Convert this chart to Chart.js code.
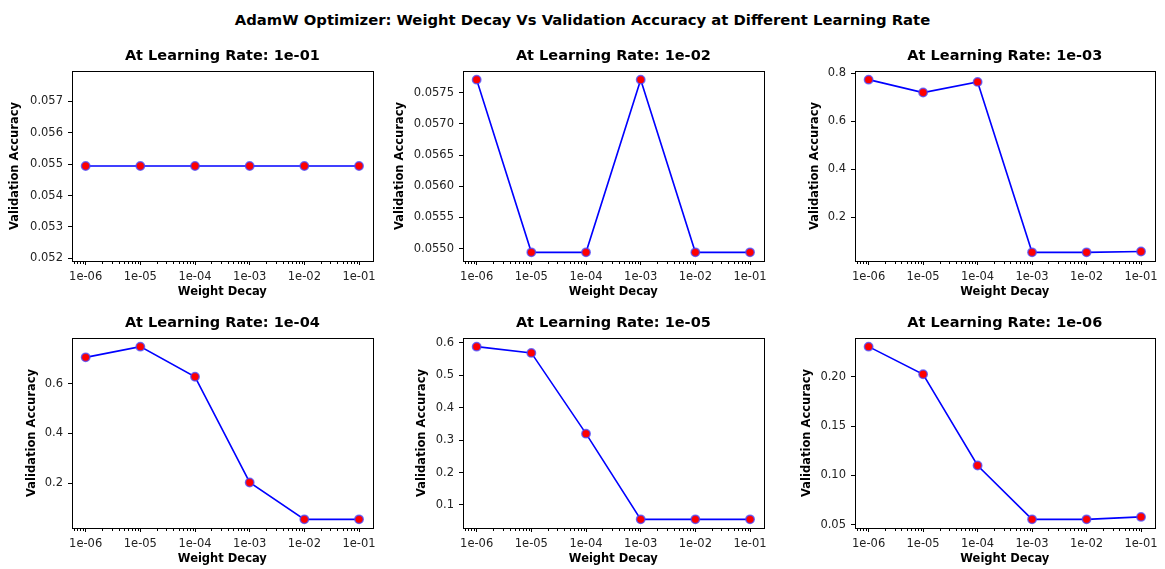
<!DOCTYPE html>
<html>
<head>
<meta charset="utf-8">
<script src="https://cdn.jsdelivr.net/npm/chart.js@4.4.1/dist/chart.umd.min.js"></script>
<style>
    body { margin: 0; background: #fff; width: 1165px; height: 569px; position: relative; overflow: hidden; }
    #main-title { position: absolute; left: 0; top: 11px; width: 1165px; text-align: center; line-height: 18px;
                  font: bold 14.8px "DejaVu Sans"; color: #000; }
    canvas { position: absolute; }
</style>
</head>
<body>
<div id="main-title">AdamW Optimizer: Weight Decay Vs Validation Accuracy at Different Learning Rate</div>
<canvas id="c0"></canvas>
<canvas id="c1"></canvas>
<canvas id="c2"></canvas>
<canvas id="c3"></canvas>
<canvas id="c4"></canvas>
<canvas id="c5"></canvas>
<script>
// Data
const weightDecays = [1e-6, 1e-5, 1e-4, 1e-3, 1e-2, 1e-1];
const xTickLabels = ['1e-06', '1e-05', '1e-04', '1e-03', '1e-02', '1e-01'];
const learningRates = ['1e-01', '1e-02', '1e-03', '1e-04', '1e-05', '1e-06'];

const accLr1e1 = [0.05494, 0.05494, 0.05494, 0.05494, 0.05494, 0.05494];
const accLr1e2 = [0.05771, 0.05494, 0.05494, 0.05771, 0.05494, 0.05494];
const accLr1e3 = [0.7735, 0.7197, 0.764, 0.0549, 0.0549, 0.0585];
const accLr1e4 = [0.705, 0.748, 0.627, 0.203, 0.0549, 0.0549];
const accLr1e5 = [0.5886, 0.5692, 0.32, 0.0555, 0.0555, 0.0555];
const accLr1e6 = [0.2306, 0.2026, 0.1101, 0.0555, 0.0555, 0.058];

const yTicksLr1e1 = [0.052, 0.053, 0.054, 0.055, 0.056, 0.057];
const yTicksLr1e2 = [0.0550, 0.0555, 0.0560, 0.0565, 0.0570, 0.0575];
const yTicksLr1e3 = [0.2, 0.4, 0.6, 0.8];
const yTicksLr1e4 = [0.2, 0.4, 0.6];
const yTicksLr1e5 = [0.1, 0.2, 0.3, 0.4, 0.5, 0.6];
const yTicksLr1e6 = [0.05, 0.10, 0.15, 0.20];

const allAcc = [accLr1e1, accLr1e2, accLr1e3, accLr1e4, accLr1e5, accLr1e6];
const allTicks = [yTicksLr1e1, yTicksLr1e2, yTicksLr1e3, yTicksLr1e4, yTicksLr1e5, yTicksLr1e6];
const tickDecimals = [3, 4, 1, 1, 1, 2];

// layout of the 2x3 grid (plot area positions in the page)
const areaLefts = [72, 463, 855];
const areaWidths = [301, 301, 300];
const areaTops = [71, 338];
const yTitlePads = [8, 2, 25, 25, 24, 17];

const FONT = '"DejaVu Sans"';

// matplotlib-like autoscale: 5% margins, expand flat data
function yLimits(values) {
    let lo = Math.min(...values), hi = Math.max(...values);
    if (hi === lo) {
        lo -= 0.05 * Math.abs(lo);
        hi += 0.05 * Math.abs(hi);
    }
    const pad = 0.05 * (hi - lo);
    return [lo - pad, hi + pad];
}

// axes frame + log minor ticks
const framePlugin = {
    id: 'frame',
    afterDraw(chart) {
        const { ctx, chartArea: a, scales: { x } } = chart;
        ctx.save();
        ctx.strokeStyle = '#000';
        ctx.lineWidth = 1;
        ctx.strokeRect(Math.round(a.left) + 0.5, Math.round(a.top) + 0.5,
                       Math.round(a.right - a.left), Math.round(a.bottom - a.top));
        ctx.beginPath();
        for (let d = -7; d <= 0; d++) {
            for (let m = 2; m <= 9; m++) {
                const v = m * Math.pow(10, d);
                if (v < x.min || v > x.max) continue;
                const px = Math.round(x.getPixelForValue(v)) + 0.5;
                ctx.moveTo(px, Math.round(a.bottom) + 0.5);
                ctx.lineTo(px, Math.round(a.bottom) + 3);
            }
        }
        ctx.stroke();
        ctx.restore();
    }
};

function makeChart(idx) {
    const col = idx % 3, row = Math.floor(idx / 3);
    const W = 72 + areaWidths[col] + 8;
    const H = 27 + 190 + 40;
    const canvas = document.getElementById('c' + idx);
    canvas.width = W; canvas.height = H;
    canvas.style.width = W + 'px'; canvas.style.height = H + 'px';
    canvas.style.left = (areaLefts[col] - 72) + 'px';
    canvas.style.top = (areaTops[row] - 27) + 'px';

    const values = allAcc[idx];
    const [yMin, yMax] = yLimits(values);
    const yTicks = allTicks[idx];
    const dec = tickDecimals[idx];

    new Chart(canvas, {
        type: 'line',
        data: {
            datasets: [{
                data: weightDecays.map((wd, i) => ({ x: wd, y: values[i] })),
                borderColor: '#0000ff',
                borderWidth: 1.6,
                pointRadius: 4.2,
                pointBackgroundColor: '#ff0000',
                pointBorderColor: 'rgba(70,70,255,0.75)',
                pointBorderWidth: 1.5,
                tension: 0,
                clip: false
            }]
        },
        options: {
            responsive: false,
            animation: false,
            layout: { padding: { left: 0, right: 8, top: 0, bottom: 0 } },
            plugins: {
                legend: { display: false },
                tooltip: { enabled: false },
                title: {
                    display: true,
                    text: 'At Learning Rate: ' + learningRates[idx],
                    fullSize: false,
                    color: '#000',
                    font: { family: FONT, size: 14.5, weight: 'bold' },
                    padding: { top: 4, bottom: 5.6 }
                }
            },
            scales: {
                x: {
                    type: 'logarithmic',
                    position: 'bottom',
                    min: Math.pow(10, -6.25),
                    max: Math.pow(10, -0.75),
                    afterBuildTicks: s => { s.ticks = weightDecays.map(v => ({ value: v })); },
                    afterFit: s => { s.height = 40; },
                    ticks: {
                        callback: (v, i) => xTickLabels[i],
                        autoSkip: false,
                        maxRotation: 0,
                        padding: 5,
                        color: '#222',
                        font: { family: FONT, size: 11.5 }
                    },
                    grid: { drawOnChartArea: false, tickLength: 4, tickColor: '#000' },
                    border: { color: '#000' },
                    title: {
                        display: true,
                        text: 'Weight Decay',
                        color: '#000',
                        font: { family: FONT, size: 11.5, weight: 'bold' },
                        padding: { top: 0, bottom: 2 }
                    }
                },
                y: {
                    type: 'linear',
                    min: yMin,
                    max: yMax,
                    afterBuildTicks: s => { s.ticks = yTicks.map(v => ({ value: v })); },
                    afterFit: s => { s.width = 72; },
                    ticks: {
                        callback: v => Number(v).toFixed(dec),
                        padding: 5,
                        color: '#222',
                        font: { family: FONT, size: 11.5 }
                    },
                    grid: { drawOnChartArea: false, tickLength: 4, tickColor: '#000' },
                    border: { color: '#000' },
                    title: {
                        display: true,
                        text: 'Validation Accuracy',
                        color: '#000',
                        font: { family: FONT, size: 11.5, weight: 'bold' },
                        padding: { top: yTitlePads[idx], bottom: 0 }
                    }
                }
            }
        },
        plugins: [framePlugin]
    });
}

for (let i = 0; i < 6; i++) makeChart(i);
</script>
</body>
</html>
